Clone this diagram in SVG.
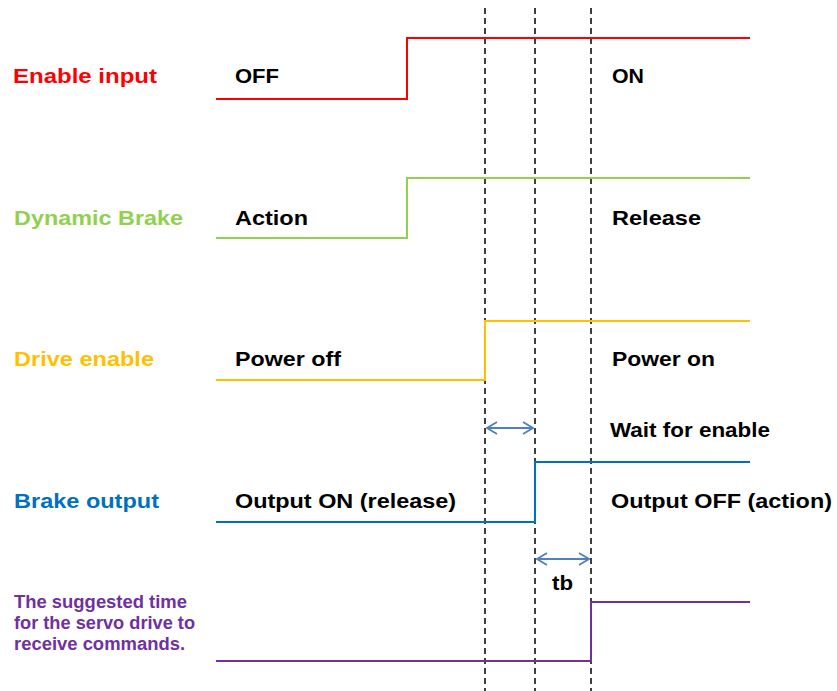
<svg xmlns="http://www.w3.org/2000/svg" width="837" height="691" viewBox="0 0 837 691">
<style>
text{font-family:"Liberation Sans",Arial,sans-serif;font-weight:bold;font-size:21px}
.lbl{fill:#000}
.note{fill:#7030A0;font-size:18px}
.sig{fill:none;stroke-width:2}
.dash{stroke:#000;stroke-width:1.5;stroke-dasharray:6,4;fill:none}
.dim{stroke:#4F81BD;stroke-width:1.8;fill:none}
</style>
<defs>
<marker id="ah" viewBox="0 0 12 14" refX="11" refY="7" markerWidth="12" markerHeight="14" markerUnits="userSpaceOnUse" orient="auto-start-reverse">
<polyline points="1,1 11,7 1,13" fill="none" stroke="#4F81BD" stroke-width="1.8"/>
</marker>
</defs>
<rect width="837" height="691" fill="#fff"/>
<g id="connectors">
<line class="dash" x1="485" y1="8" x2="485" y2="691"/>
<line class="dash" x1="535" y1="8" x2="535" y2="691"/>
<line class="dash" x1="591" y1="8" x2="591" y2="691"/>
<polyline class="sig" stroke="#FF0000" points="216,99 407,99 407,38 750,38"/>
<polyline class="sig" stroke="#92D050" points="216,238 407,238 407,178 750,178"/>
<polyline class="sig" stroke="#FFC000" points="216,380 485,380 485,321 750,321"/>
<polyline class="sig" stroke="#0070C0" points="216,522 535,522 535,462 750,462"/>
<polyline class="sig" stroke="#7030A0" points="216,661 591,661 591,602 750,602"/>
<line class="dim" x1="487" y1="428" x2="533" y2="428" marker-start="url(#ah)" marker-end="url(#ah)"/>
<line class="dim" x1="537" y1="559" x2="589" y2="559" marker-start="url(#ah)" marker-end="url(#ah)"/>
</g>
<g id="enable-input">
<text x="13" y="83" fill="#FF0000" textLength="144" lengthAdjust="spacingAndGlyphs">Enable input</text>
<text class="lbl" x="235" y="83" textLength="44" lengthAdjust="spacingAndGlyphs">OFF</text>
<text class="lbl" x="612" y="83" textLength="32" lengthAdjust="spacingAndGlyphs">ON</text>
</g>
<g id="dynamic-brake">
<text x="14" y="225" fill="#92D050" textLength="169" lengthAdjust="spacingAndGlyphs">Dynamic Brake</text>
<text class="lbl" x="235" y="225" textLength="73" lengthAdjust="spacingAndGlyphs">Action</text>
<text class="lbl" x="612" y="225" textLength="89" lengthAdjust="spacingAndGlyphs">Release</text>
</g>
<g id="drive-enable">
<text x="14" y="366" fill="#FFC000" textLength="140" lengthAdjust="spacingAndGlyphs">Drive enable</text>
<text class="lbl" x="235" y="366" textLength="106" lengthAdjust="spacingAndGlyphs">Power off</text>
<text class="lbl" x="612" y="366" textLength="103" lengthAdjust="spacingAndGlyphs">Power on</text>
<text class="lbl" x="610" y="437" textLength="160" lengthAdjust="spacingAndGlyphs">Wait for enable</text>
</g>
<g id="brake-output">
<text x="14" y="508" fill="#0070C0" textLength="145" lengthAdjust="spacingAndGlyphs">Brake output</text>
<text class="lbl" x="235" y="508" textLength="221" lengthAdjust="spacingAndGlyphs">Output ON (release)</text>
<text class="lbl" x="611" y="508" textLength="221" lengthAdjust="spacingAndGlyphs">Output OFF (action)</text>
</g>
<g id="suggested-time">
<text class="note" x="14" y="608" textLength="173" lengthAdjust="spacingAndGlyphs">The suggested time</text>
<text class="note" x="14" y="629" textLength="181" lengthAdjust="spacingAndGlyphs">for the servo drive to</text>
<text class="note" x="14" y="650" textLength="171" lengthAdjust="spacingAndGlyphs">receive commands.</text>
</g>
<g id="tb">
<text class="lbl" x="552" y="590" textLength="21" lengthAdjust="spacingAndGlyphs">tb</text>
</g>
</svg>
